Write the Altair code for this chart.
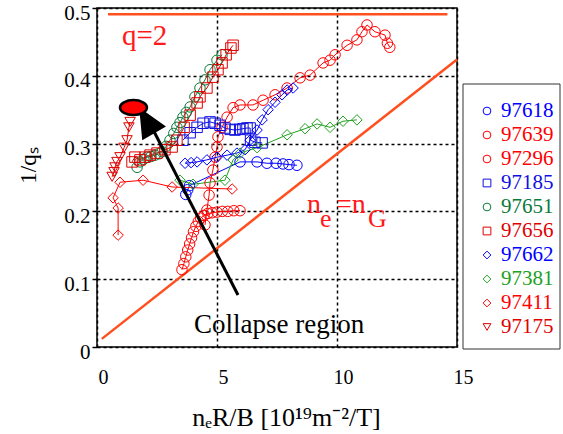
import altair as alt
import pandas as pd

# ---------------- data ----------------
names = ["97618", "97639", "97296", "97185", "97651", "97656", "97662", "97381", "97411", "97175"]
colors = ["#0000ff", "#ff0000", "#ff0000", "#1010e0", "#0a7a3a", "#e00000", "#0000ff", "#22a022", "#ff0000", "#e00000"]
shapes = ["circle", "circle", "circle", "square", "circle", "square", "diamond", "diamond", "diamond", "triangle-down"]

s97618_x = [3.70, 3.78, 3.85, 5.96, 6.67, 7.08, 7.46, 7.75, 8.00, 8.33]
s97618_y = [0.225, 0.232, 0.238, 0.273, 0.273, 0.271, 0.271, 0.270, 0.269, 0.268]

s97639_x = [4.50, 4.58, 4.67, 4.71, 4.83, 4.92, 5.00, 5.04, 5.21, 5.42, 5.67, 5.96, 6.50, 6.92, 7.42, 7.92,
            8.46, 8.88, 9.42, 9.71, 9.92, 10.42, 10.83, 11.04, 11.25, 11.58, 12.00, 12.10, 12.20]
s97639_y = [0.180, 0.202, 0.224, 0.242, 0.261, 0.280, 0.295, 0.310, 0.324, 0.339, 0.353, 0.357, 0.357, 0.364,
            0.372, 0.382, 0.397, 0.401, 0.419, 0.423, 0.431, 0.445, 0.453, 0.465, 0.475, 0.465, 0.460, 0.448, 0.442]

s97296_x = [3.54, 3.62, 3.70, 3.78, 3.86, 3.94, 4.02, 4.12, 4.22, 4.32, 4.46, 4.62, 4.80, 5.00, 5.22, 5.45, 5.70, 5.96]
s97296_y = [0.114, 0.123, 0.133, 0.143, 0.152, 0.161, 0.170, 0.178, 0.185, 0.190, 0.194, 0.197, 0.198, 0.199,
            0.200, 0.200, 0.201, 0.201]

s97185_x = [3.58, 3.88, 4.17, 4.42, 4.71, 4.92, 5.13, 5.33, 5.55, 5.75, 5.95, 6.08, 6.25, 6.38, 6.40, 6.58, 6.88]
s97185_y = [0.305, 0.316, 0.324, 0.330, 0.332, 0.330, 0.327, 0.323, 0.321, 0.320, 0.321, 0.322, 0.323, 0.323,
            0.305, 0.302, 0.301]

s97651_x = [1.67, 1.79, 1.95, 2.08, 2.25, 2.42, 2.58, 2.71, 2.88, 3.04, 3.20, 3.33, 3.46, 3.58, 3.72, 3.88,
            4.08, 4.29, 4.50, 4.71, 5.00, 5.21]
s97651_y = [0.265, 0.273, 0.277, 0.280, 0.281, 0.283, 0.285, 0.288, 0.296, 0.305, 0.315, 0.324, 0.331, 0.339,
            0.346, 0.354, 0.369, 0.382, 0.394, 0.409, 0.423, 0.431]

s97656_x = [1.46, 1.58, 1.79, 2.00, 2.21, 2.50, 2.83, 3.13, 3.33, 3.63, 3.88, 4.17, 4.29, 4.58, 4.83, 5.04,
            5.21, 5.38, 5.58, 5.67]
s97656_y = [0.273, 0.280, 0.276, 0.280, 0.283, 0.286, 0.291, 0.295, 0.305, 0.324, 0.342, 0.360, 0.369, 0.382,
            0.398, 0.409, 0.419, 0.431, 0.441, 0.445]

s97662_x = [3.67, 3.92, 4.17, 4.58, 5.00, 5.42, 5.83, 6.17, 6.38, 6.67, 6.88, 7.13, 7.42, 7.71, 7.92, 8.17]
s97662_y = [0.271, 0.272, 0.273, 0.276, 0.280, 0.283, 0.286, 0.291, 0.305, 0.320, 0.335, 0.350, 0.361, 0.372,
            0.379, 0.382]

s97381_x = [3.46, 4.00, 5.33, 5.67, 5.96, 6.67, 7.92, 8.67, 9.17, 9.71, 10.25, 10.83]
s97381_y = [0.246, 0.240, 0.246, 0.276, 0.286, 0.294, 0.313, 0.322, 0.329, 0.324, 0.333, 0.335]

s97411_x = [0.88, 0.88, 0.67, 0.96, 1.92, 3.13, 5.63]
s97411_y = [0.165, 0.205, 0.220, 0.243, 0.246, 0.236, 0.233]

s97175_x = [0.63, 0.71, 0.75, 0.83, 0.96, 1.13, 1.25, 1.33, 1.38]
s97175_y = [0.251, 0.258, 0.265, 0.273, 0.280, 0.294, 0.305, 0.324, 0.332]

series_x = [s97618_x, s97639_x, s97296_x, s97185_x, s97651_x, s97656_x, s97662_x, s97381_x, s97411_x, s97175_x]
series_y = [s97618_y, s97639_y, s97296_y, s97185_y, s97651_y, s97656_y, s97662_y, s97381_y, s97411_y, s97175_y]

q2_x = [0.46, 14.6]
q2_y = [0.4907, 0.4907]
ng_x = [0.2, 15.0]
ng_y = [0.012, 0.424]

x_ticks = [0, 5, 10, 15]
y_ticks = [0, 0.1, 0.2, 0.3, 0.4, 0.5]

# ---------------- build tables ----------------
rows = []
for name, xs, ys in zip(names, series_x, series_y):
    for i, (a, b) in enumerate(zip(xs, ys)):
        rows.append({"series": name, "i": i, "x": a, "y": b})
df = pd.DataFrame(rows)

FONT = "'Liberation Serif', 'Times New Roman', serif"
ORANGE = "#ff4f1f"
RED = "#ff1a1a"
xtitle = "nₑR/B [10¹⁹m⁻²/T]"
ytitle = "1/qₛ"

xscale = alt.Scale(domain=[0, 15], nice=False, zero=False)
yscale = alt.Scale(domain=[0, 0.5], nice=False, zero=False)
xaxis = alt.Axis(values=x_ticks, grid=True, domain=False, ticks=False, labelPadding=20, labelOffset=6,
                 labelFontSize=20, labelFont=FONT, labelColor="black", labelFlush=False,
                 titleFont=FONT, titleFontSize=26, titleFontWeight="normal", titleColor="black",
                 titleX=189, titleY=78, titleBaseline="alphabetic", titleAlign="center")
yaxis = alt.Axis(values=y_ticks, grid=True, domain=False, ticks=True, tickSize=5, tickColor="black",
                 tickWidth=1.5, labelPadding=2, labelOffset=5, labelFontSize=21, labelFont=FONT,
                 labelColor="black", labelFlush=False,
                 labelExpr="datum.value == 0 ? '0' : format(datum.value, '.1f')",
                 titleFont=FONT, titleFontSize=23, titleFontWeight="normal", titleColor="black",
                 titleX=-62, titleY=157, titleAngle=270, titleBaseline="alphabetic", titleAlign="center")


def X(field="x"):
    return alt.X(f"{field}:Q", scale=xscale, axis=xaxis, title=xtitle)


def Y(field="y"):
    return alt.Y(f"{field}:Q", scale=yscale, axis=yaxis, title=ytitle)


color_enc = alt.Color("series:N", scale=alt.Scale(domain=names, range=colors), legend=None)
shape_enc = alt.Shape("series:N", scale=alt.Scale(domain=names, range=shapes), legend=None)

base = alt.Chart(df)
lines = base.mark_line(strokeWidth=1).encode(x=X(), y=Y(), color=color_enc, detail="series:N", order="i:Q")
points = base.mark_point(filled=False, strokeWidth=1, size=110, opacity=1).encode(
    x=X(), y=Y(), color=color_enc, shape=shape_enc)

q2 = alt.Chart(pd.DataFrame({"x": q2_x, "y": q2_y})).mark_line(color=ORANGE, strokeWidth=2.5).encode(x=X(), y=Y())
ng = alt.Chart(pd.DataFrame({"x": ng_x, "y": ng_y})).mark_line(color=ORANGE, strokeWidth=2.5).encode(x=X(), y=Y())

# arrow and marker annotation
shaft = alt.Chart(pd.DataFrame({"x": [5.875, 2.375], "y": [0.0767, 0.3178]})).mark_line(
    color="black", strokeWidth=3).encode(x=X(), y=Y())
head = alt.Chart(pd.DataFrame({"x": [2.083], "y": [0.3333]})).mark_point(
    shape="M0,-1L0.92,1L-0.92,1Z", filled=True, fill="black", stroke="black", size=700, angle=330,
    opacity=1).encode(x=X(), y=Y())
ellipse = alt.Chart(pd.DataFrame({"x": [1.52], "y": [0.3532]})).mark_point(
    shape="M-1,0A1,0.55,0,1,0,1,0A1,0.55,0,1,0,-1,0Z", filled=True, fill="#ff0000", stroke="black",
    strokeWidth=2.5, size=729, opacity=1).encode(x=X(), y=Y())


def label(txt, xv, yv, size, color, align="left"):
    return alt.Chart(pd.DataFrame({"x": [xv], "y": [yv], "t": [txt]})).mark_text(
        align=align, baseline="alphabetic", font=FONT, fontSize=size, color=color).encode(
        x=X(), y=Y(), text="t:N")


texts = [
    label("q=2", 1.04, 0.445, 29, RED),
    label("n", 8.75, 0.1976, 28, RED),
    label("e", 9.29, 0.177, 26, RED),
    label("=n", 9.96, 0.1976, 28, RED),
    label("G", 11.29, 0.177, 26, RED),
    label("Collapse region", 4.04, 0.02, 27, "black"),
]

main = alt.layer(ng, q2, lines, points, shaft, head, ellipse, *texts)

# legend box built from the same series names
leg_df = pd.DataFrame({"series": names})
leg_y = alt.Y("series:N", scale=alt.Scale(domain=names, range=[103, 319], padding=0), axis=None)
leg_box = alt.Chart(pd.DataFrame({"a": [0]})).mark_rect(fill=None, stroke="#333333", strokeWidth=1).encode(
    x=alt.value(366), x2=alt.value(463), y=alt.value(76), y2=alt.value(341))
leg_sym = alt.Chart(leg_df).mark_point(filled=False, strokeWidth=1, size=60, opacity=1).encode(
    x=alt.value(390), y=leg_y, color=color_enc, shape=shape_enc)
leg_txt = alt.Chart(leg_df).mark_text(align="left", baseline="middle", font=FONT, fontSize=21).encode(
    x=alt.value(404), y=leg_y, color=color_enc, text="series:N")
legend = alt.layer(leg_box, leg_sym, leg_txt)

chart = alt.layer(main, legend).resolve_scale(y="independent", color="independent", shape="independent").properties(
    width=360, height=339,
    autosize=alt.AutoSizeParams(type="none"),
    padding={"left": 97, "top": 8, "right": 106, "bottom": 87},
    background="white",
).configure_view(stroke="black", strokeWidth=1.5).configure_axis(
    gridColor="black", gridDash=[3, 3], gridWidth=1.5, gridOpacity=1)

chart.save("out.html", embed_options={"renderer": "svg", "actions": False})
